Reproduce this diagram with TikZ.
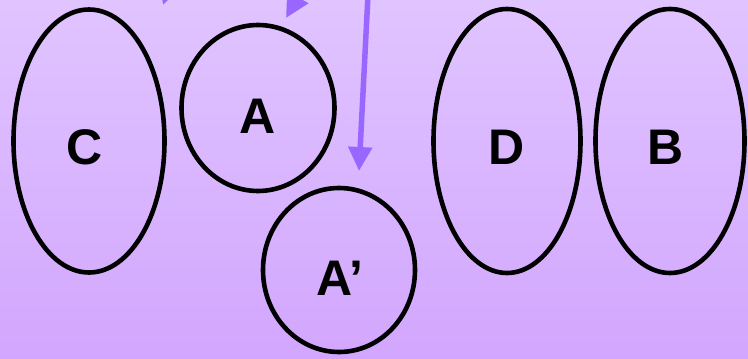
\documentclass[tikz,border=0pt]{standalone}
\usepackage{fontspec}
\setmainfont{Liberation Sans}
\usetikzlibrary{shapes.geometric,arrows.meta}
\definecolor{bgtop}{RGB}{224,196,255}
\definecolor{bgbot}{RGB}{210,166,254}
\definecolor{arr}{RGB}{153,102,255}
\tikzset{
  oval/.style={draw=black,line width=4.6pt,ellipse,inner sep=0pt,minimum width=#1},
  lbl/.style={font=\fontsize{50}{50}\selectfont\bfseries,inner sep=0pt},
  parr/.style={draw=arr,line width=5.5pt,-{Triangle[length=24pt,width=23pt]},shorten >=0pt}
}
\begin{document}
\begin{tikzpicture}[x=1pt,y=-1pt]
\useasboundingbox (0,0) rectangle (748,359);
\shade[top color=bgtop,bottom color=bgbot] (0,0) rectangle (748,359);
\clip (0,0) rectangle (748,359);
\node[oval=151pt,minimum height=263pt] (C) at (89,141) {};
\node[oval=153pt,minimum height=166pt] (A) at (258,108) {};
\node[oval=152pt,minimum height=164pt] (Ap) at (339,270) {};
\node[oval=147pt,minimum height=264pt] (D) at (507,141) {};
\node[oval=149pt,minimum height=264pt] (B) at (670,141) {};
\node[lbl] (Cl) at (85,147) {C};
\node[lbl] (Al) at (258,116) {A};
\node[lbl] (Apl) at (340,278) {A’};
\node[lbl] (Dl) at (507,147) {D};
\node[lbl] (Bl) at (666,147) {B};
\coordinate (t1s) at (178,-40);
\coordinate (t1e) at (163,5);
\coordinate (t2s) at (318,-38);
\coordinate (t2e) at (286,18);
\coordinate (t3s) at (368,-5);
\coordinate (t3e) at (359,171);
\draw[parr] (t1s) -- (t1e);
\draw[parr] (t2s) -- (t2e);
\draw[parr] (t3s) -- (t3e);
\end{tikzpicture}
\end{document}
